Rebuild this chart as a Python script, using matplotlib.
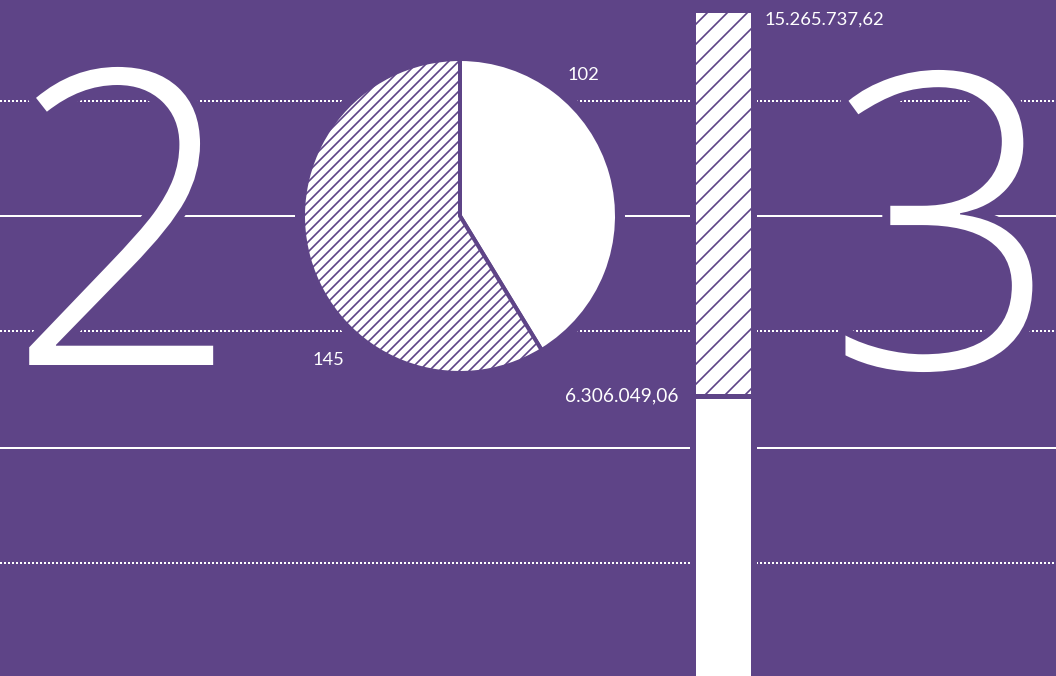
import matplotlib
matplotlib.use('Agg')
import matplotlib.pyplot as plt
import matplotlib.patheffects as pe

# data
year_digits = ['2', '3']
pie_values = [102, 145]
pie_labels = ['102', '145']
bar_values = [15265737.62, 6306049.06]
bar_labels = ['15.265.737,62', '6.306.049,06']
dotted_rows = [101, 331, 563]   # guide lines, px from top
solid_rows = [216, 448]

PURPLE = '#5e4487'
W, H, DPI = 1056, 676, 120

plt.rcParams['font.family'] = ['Lato', 'DejaVu Sans']
plt.rcParams['hatch.linewidth'] = 1.0

def Y(y):
    return H - y

fig = plt.figure(figsize=(W / DPI, H / DPI), dpi=DPI, facecolor=PURPLE)
ax = fig.add_axes([0, 0, 1, 1])
ax.set_facecolor(PURPLE)

for y in dotted_rows:
    ax.axhline(Y(y), color='white', lw=1.2, ls=(0, (1, 1)), zorder=2)
for y in solid_rows:
    ax.axhline(Y(y), color='white', lw=1.2, zorder=2)

halo = [pe.Stroke(linewidth=9.6, foreground=PURPLE), pe.Normal()]

# big year digits
big = dict(family='Open Sans', fontweight='light', fontsize=247, color='white',
           ha='center', va='baseline', zorder=5, path_effects=halo)
ax.text(124, Y(365), year_digits[0], **big)
ax.text(944, Y(368), year_digits[1], **big)

# pie: purple halo underneath, then the real pie
centre = (460, Y(216))
ax.pie(pie_values, center=centre, radius=157, startangle=90, counterclock=False,
       colors=[PURPLE, PURPLE], frame=True,
       wedgeprops=dict(edgecolor=PURPLE, linewidth=9.6, zorder=3))
ax.pie(pie_values, center=centre, radius=157, startangle=90, counterclock=False,
       colors=['white', 'white'], hatch=['', '////'], frame=True,
       wedgeprops=dict(edgecolor=PURPLE, linewidth=2.4, zorder=4))

ax.text(583, Y(75), pie_labels[0], fontsize=11, color='white', ha='center', va='center')
ax.text(328, Y(360), pie_labels[1], fontsize=11, color='white', ha='center', va='center')

ax.set_xlim(0, W)
ax.set_ylim(0, H)
ax.axis('off')

# stacked column, one panel per segment
bx_l, bx_w = (723.5 - 44) / W, 88 / W
bar_halo = [pe.Stroke(linewidth=7.2, foreground=PURPLE), pe.Normal()]

axt = fig.add_axes([bx_l, (H - 394) / H, bx_w, 381 / H])
axt.bar(0, bar_values[0], width=1, color='white', edgecolor=PURPLE, lw=0,
        hatch='//', path_effects=bar_halo)
axt.set_xlim(-0.8, 0.8)
axt.set_ylim(0, bar_values[0])
axt.axis('off')

axb = fig.add_axes([bx_l, 0, bx_w, (H - 399) / H])
axb.bar(0, bar_values[1], width=1, color='white', edgecolor=PURPLE, lw=0,
        path_effects=bar_halo)
axb.set_xlim(-0.8, 0.8)
axb.set_ylim(bar_values[1], 0)
axb.axis('off')

ax.text(765, Y(20), bar_labels[0], fontsize=11, color='white', ha='left', va='center')
ax.text(678, Y(396), bar_labels[1], fontsize=11.5, color='white', ha='right', va='center')

fig.savefig('out.png', dpi=DPI, facecolor=PURPLE)
